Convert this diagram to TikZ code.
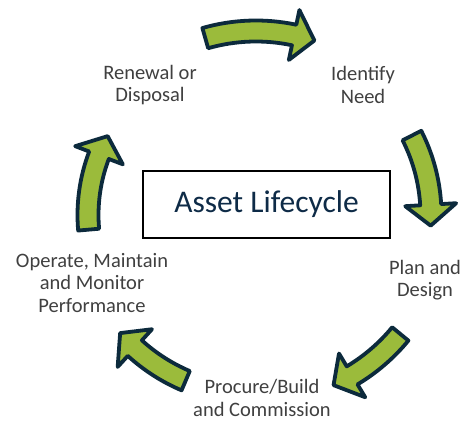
\documentclass[tikz,border=0pt]{standalone}
\usepackage{fontspec}
\setmainfont{Carlito}
\definecolor{arrowgreen}{HTML}{9BBB3B}
\definecolor{arrowedge}{HTML}{0C2A3C}
\definecolor{labelgray}{HTML}{404040}
\definecolor{titlenavy}{HTML}{0E2B47}
% arrow geometry (in px-sized units)
\newcommand{\cycBody}{10.5}
\newcommand{\cycHead}{25.5}
\newcommand{\cycHeadLen}{21}
% curved arrow around the origin: #1 tail angle, #2 tip angle, #3 radius
\newcommand{\cyclearrow}[3]{%
  \pgfmathsetmacro{\cab}{#2+\cycHeadLen/#3*57.2958}%
  \pgfmathsetmacro{\cro}{#3+\cycBody}%
  \pgfmathsetmacro{\cri}{#3-\cycBody}%
  \pgfmathsetmacro{\crho}{#3+\cycHead}%
  \pgfmathsetmacro{\crhi}{#3-\cycHead}%
  \filldraw[arrowshape] (#1:\cro) arc[start angle=#1, end angle=\cab, radius=\cro]
    -- (\cab:\crho) -- (#2:#3) -- (\cab:\crhi) -- (\cab:\cri)
    arc[start angle=\cab, end angle=#1, radius=\cri] -- cycle;%
}
\begin{document}
\begin{tikzpicture}[x=1pt, y=1pt,
  arrowshape/.style={fill=arrowgreen, draw=arrowedge, line width=3.8pt, line join=round},
  stage/.style={align=center, text=labelgray, font=\fontsize{20.5}{22.5}\selectfont, inner sep=0pt},
  titlebox/.style={draw=black, line width=2pt, minimum width=247pt, minimum height=67pt,
    text=titlenavy, font=\fontsize{31.5}{36}\selectfont, inner sep=0pt}]
\useasboundingbox[fill=white] (0,0) rectangle (464,421);

% the five cycle arrows, clockwise
\begin{scope}[shift={(256,206)}]
  \cyclearrow{106}{71.5}{184}
  \cyclearrow{27}{-3.5}{175}
  \cyclearrow{-39.5}{-65.5}{187}
  \cyclearrow{-113}{-139}{180}
  \cyclearrow{185}{152}{168}
\end{scope}

% centre title
\node[titlebox] (title) at (266.5,216.5) {Asset Lifecycle};

% stage labels
\node[stage] (renew) at (150,336) {Renewal or\\Disposal};
\node[stage] (need) at (363,336) {Identify\\Need};
\node[stage] (plan) at (425,141) {Plan and\\Design};
\node[stage] (build) at (262,23) {Procure/Build\\and Commission};
\node[stage] (operate) at (92,138) {Operate, Maintain\\and Monitor\\Performance};
\end{tikzpicture}
\end{document}
